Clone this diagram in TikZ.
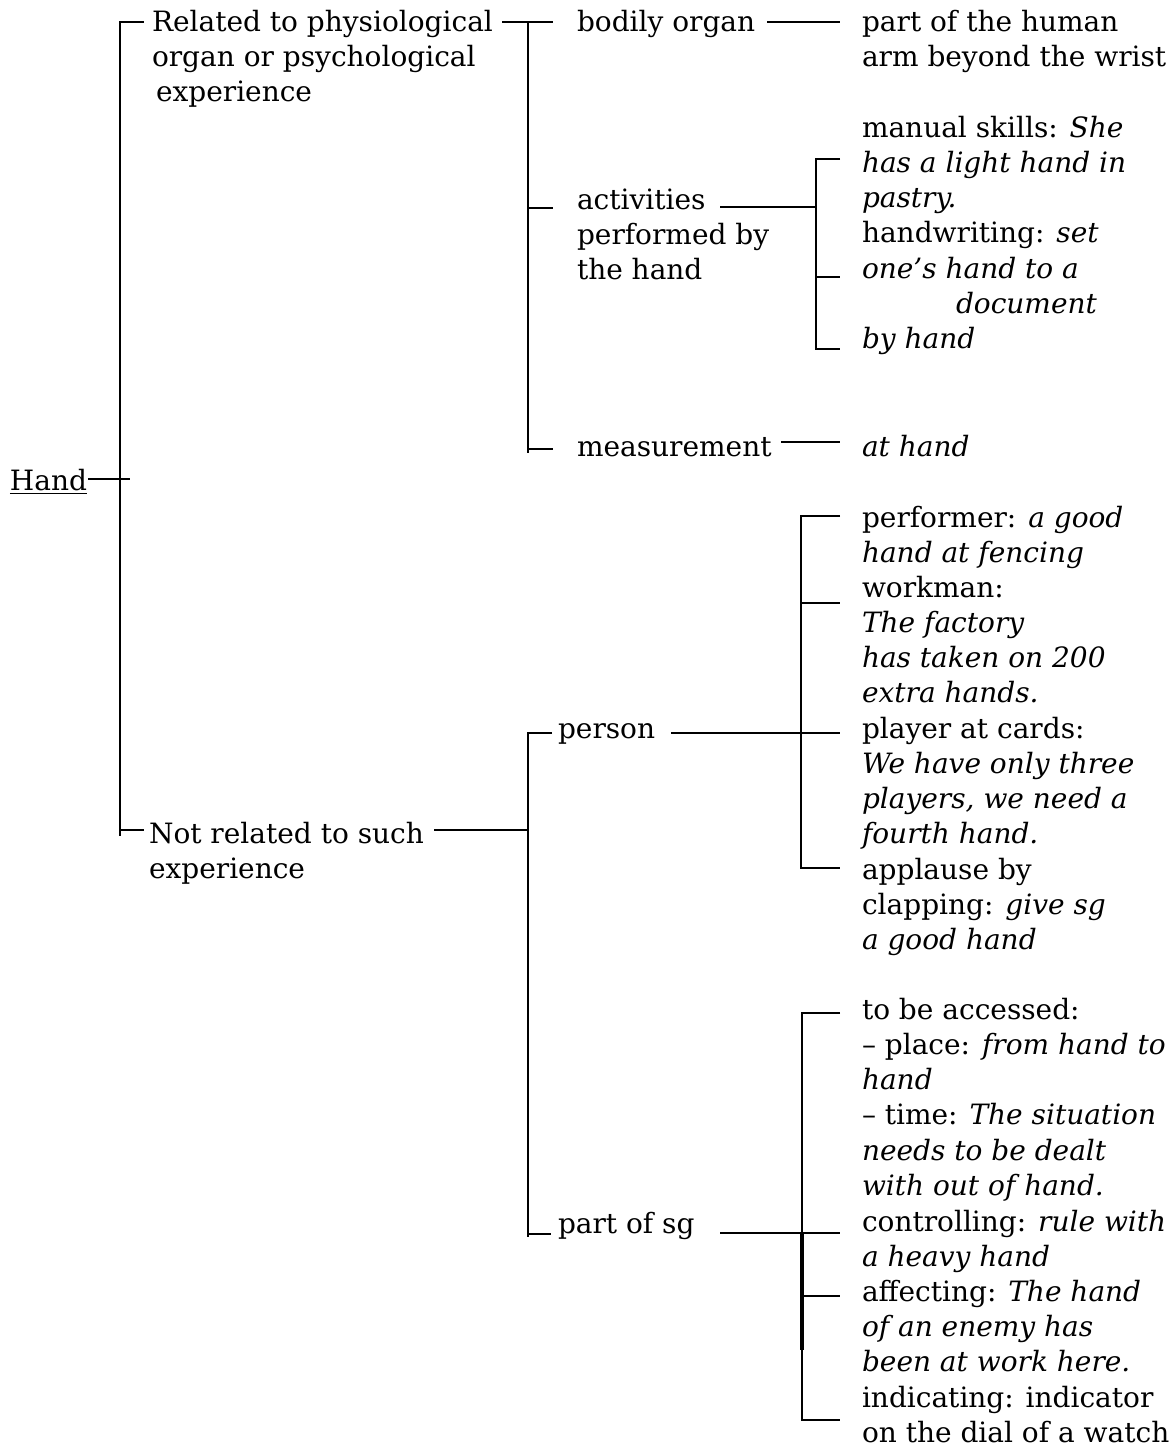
\documentclass[tikz,border=0pt]{standalone}
\usepackage{fontspec}
\setmainfont{DejaVu Serif}
\newcommand{\lines}[1]{\begin{tabular}[t]{@{}l@{}}#1\end{tabular}}
\begin{document}
\begin{tikzpicture}[x=0.5pt,y=-0.5pt,
  txt/.style={anchor=base west,inner sep=0pt,outer sep=0pt,
    font=\fontsize{14}{17.63}\selectfont},
  ln/.style={line width=1pt},
  thick ln/.style={line width=1.6pt}]
\useasboundingbox (0,0) rectangle (1175,1446);

% ---------- text nodes ----------
\node[txt] (hand) at (10,490) {\underline{Hand}};
\node[txt] (rel) at (152,31) {\lines{Related to physiological\\organ or psychological\\\hspace{2pt}experience}};
\node[txt] (notrel) at (149,843) {\lines{Not related to such\\experience}};

\node[txt] (bodily) at (577,31) {bodily organ};
\node[txt] (activ) at (577,209) {\lines{activities\\performed by\\the hand}};
\node[txt] (meas) at (577,456) {measurement};
\node[txt] (person) at (558,738) {person};
\node[txt] (partsg) at (558,1233) {part of sg};

\node[txt] (arm) at (862,31) {\lines{part of the human\\arm beyond the wrist}};
\node[txt] (manual) at (862,137) {\lines{manual skills: \textit{She}\\\textit{has a light hand in}\\\textit{pastry.}\\handwriting: \textit{set}\\\textit{one’s hand to a}\\\hspace{47pt}\textit{document}\\\textit{by hand}}};
\node[txt] (athand) at (862,456) {\textit{at hand}};
\node[txt] (perf) at (862,527) {\lines{performer: \textit{a good}\\\textit{hand at fencing}}};
\node[txt] (work) at (862,597) {\lines{workman:\\\textit{The factory}\\\textit{has taken on 200}\\\textit{extra hands.}}};
\node[txt] (player) at (862,738) {\lines{player at cards:\\\textit{We have only three}\\\textit{players, we need a}\\\textit{fourth hand.}}};
\node[txt] (appl) at (862,879) {\lines{applause by\\clapping: \textit{give sg}\\\textit{a good hand}}};
\node[txt] (access) at (862,1019) {\lines{to be accessed:\\– place: \textit{from hand to}\\\textit{hand}\\– time: \textit{The situation}\\\textit{needs to be dealt}\\\textit{with out of hand.}}};
\node[txt] (ctrl) at (862,1231) {\lines{controlling: \textit{rule with}\\\textit{a heavy hand}}};
\node[txt] (affect) at (862,1301) {\lines{affecting: \textit{The hand}\\\textit{of an enemy has}\\\textit{been at work here.}}};
\node[txt] (indic) at (862,1407) {\lines{indicating: indicator\\on the dial of a watch}};

% ---------- junction coordinates ----------
\coordinate (h0) at (88,479);
\coordinate (h1) at (130,479);
\coordinate (v1t) at (120,22);
\coordinate (v1b) at (120,836);
\coordinate (t1) at (143.5,22);
\coordinate (t1b) at (143.5,830);
\coordinate (v1m) at (120,830);
\coordinate (r0) at (502,22);
\coordinate (r1) at (553,22);
\coordinate (v2t) at (528,22);
\coordinate (v2b) at (528,453);
\coordinate (v2a) at (528,208);
\coordinate (v2a1) at (553,208);
\coordinate (v2m) at (528,449);
\coordinate (v2m1) at (553,449);
\coordinate (n0) at (434,830);
\coordinate (n1) at (528,830);
\coordinate (v6t) at (528,733);
\coordinate (v6b) at (528,1237);
\coordinate (v6p) at (552,733);
\coordinate (v6s0) at (528,1234);
\coordinate (v6s) at (551,1234);
\coordinate (b0) at (767,22);
\coordinate (b1) at (840,22);
\coordinate (a0) at (720,207);
\coordinate (v3a) at (816,207);
\coordinate (v3t) at (816,159);
\coordinate (v3m) at (816,277);
\coordinate (v3b) at (816,349);
\coordinate (v3t1) at (840,159);
\coordinate (v3m1) at (840,277);
\coordinate (v3b1) at (840,349);
\coordinate (m0) at (781,442);
\coordinate (m1) at (840,442);
\coordinate (p0) at (671,733);
\coordinate (p1) at (840,733);
\coordinate (v4t) at (801,516);
\coordinate (v4w) at (801,603);
\coordinate (v4b) at (801,868);
\coordinate (v4t1) at (840,516);
\coordinate (v4w1) at (840,603);
\coordinate (v4b1) at (840,868);
\coordinate (s0) at (720,1233);
\coordinate (s1) at (840,1233);
\coordinate (v5t) at (802,1013);
\coordinate (v5k) at (802,1233);
\coordinate (v5k2) at (802,1350);
\coordinate (v5f) at (802,1296);
\coordinate (v5b) at (802,1420);
\coordinate (v5t1) at (840,1013);
\coordinate (v5f1) at (840,1296);
\coordinate (v5b1) at (840,1420);

% ---------- connectors ----------
\draw[ln] (h0) -- (h1);
\draw[ln] (t1) -- (v1t) -- (v1b);
\draw[ln] (v1m) -- (t1b);
\draw[ln] (r0) -- (r1);
\draw[ln] (v2t) -- (v2b);
\draw[ln] (v2a) -- (v2a1);
\draw[ln] (v2m) -- (v2m1);
\draw[ln] (n0) -- (n1);
\draw[ln] (v6p) -- (v6t) -- (v6b);
\draw[ln] (v6s0) -- (v6s);
\draw[ln] (b0) -- (b1);
\draw[ln] (a0) -- (v3a);
\draw[ln] (v3t1) -- (v3t) -- (v3b) -- (v3b1);
\draw[ln] (v3m) -- (v3m1);
\draw[ln] (m0) -- (m1);
\draw[ln] (p0) -- (p1);
\draw[ln] (v4t1) -- (v4t) -- (v4b) -- (v4b1);
\draw[ln] (v4w) -- (v4w1);
\draw[ln] (s0) -- (s1);
\draw[ln] (v5t1) -- (v5t) -- (v5b) -- (v5b1);
\draw[thick ln] (v5k) -- (v5k2);
\draw[ln] (v5f) -- (v5f1);
\end{tikzpicture}
\end{document}
